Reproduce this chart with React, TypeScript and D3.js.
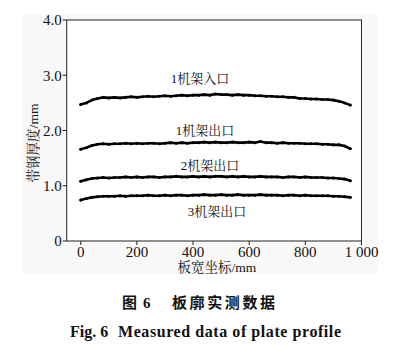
import React from "react";
import * as d3 from "d3";

const xs = [0,20,40,60,80,100,120,140,160,180,200,220,240,260,280,300,320,340,360,380,400,420,440,460,480,500,520,540,560,580,600,620,640,660,680,700,720,740,760,780,800,820,840,860,880,900,920,940,960];

const s1In = [2.47,2.50,2.55,2.58,2.60,2.59,2.60,2.59,2.60,2.61,2.60,2.61,2.62,2.61,2.62,2.63,2.62,2.63,2.64,2.63,2.64,2.64,2.65,2.64,2.66,2.65,2.65,2.64,2.65,2.64,2.64,2.63,2.63,2.62,2.62,2.61,2.61,2.60,2.60,2.58,2.58,2.57,2.57,2.56,2.56,2.55,2.53,2.50,2.46];
const s1Out = [1.66,1.69,1.73,1.75,1.76,1.75,1.76,1.76,1.77,1.76,1.77,1.76,1.77,1.77,1.76,1.77,1.78,1.77,1.78,1.77,1.78,1.78,1.79,1.78,1.79,1.78,1.78,1.79,1.78,1.78,1.79,1.78,1.80,1.78,1.78,1.77,1.78,1.77,1.77,1.77,1.76,1.76,1.76,1.75,1.75,1.74,1.74,1.72,1.67];
const s2Out = [1.08,1.11,1.13,1.14,1.15,1.14,1.15,1.15,1.16,1.15,1.16,1.15,1.16,1.16,1.15,1.16,1.16,1.17,1.16,1.16,1.17,1.16,1.17,1.16,1.17,1.17,1.16,1.17,1.16,1.17,1.16,1.16,1.17,1.16,1.16,1.16,1.15,1.16,1.16,1.15,1.16,1.15,1.15,1.15,1.14,1.14,1.13,1.12,1.09];
const s3Out = [0.74,0.77,0.79,0.80,0.81,0.81,0.81,0.82,0.81,0.82,0.82,0.82,0.83,0.82,0.82,0.83,0.82,0.83,0.83,0.82,0.83,0.83,0.84,0.83,0.83,0.84,0.83,0.83,0.84,0.83,0.83,0.83,0.84,0.83,0.83,0.83,0.82,0.83,0.83,0.82,0.83,0.82,0.82,0.82,0.82,0.81,0.81,0.80,0.79];

const seriesList = [s1In, s1Out, s2Out, s3Out];
const seriesLabels = ["1机架入口", "1机架出口", "2机架出口", "3机架出口"];
const labelPos = [[200, 78], [205, 130], [210, 165], [217, 211]];

const xTicks = [0, 200, 400, 600, 800, 1000];
const xTickLabels = ["0", "200", "400", "600", "800", "1 000"];
const yTicks = [0, 1, 2, 3, 4];
const yTickLabels = ["0", "1.0", "2.0", "3.0", "4.0"];

const serif = "'Liberation Serif','Times New Roman','Noto Serif CJK SC','Noto Sans CJK SC',serif";

export default function App() {
  const x = d3.scaleLinear().domain([-50, 1000]).range([66.7, 361.5]);
  const y = d3.scaleLinear().domain([0, 4]).range([241, 20]);
  const line = d3.line<number>().x((_, i) => x(xs[i])).y((d) => y(d)).curve(d3.curveLinear);

  return (
    <svg width={412} height={356} style={{ position: "absolute", left: 0, top: 0 }} fontFamily={serif}>
      <rect x={0} y={0} width={412} height={356} fill="#fff" />
      <rect x={22} y={14} width={356} height={260} fill="#f8f8f8" />
      {/* frame */}
      <rect x={x(-50)} y={y(4)} width={x(1000) - x(-50)} height={y(0) - y(4)} fill="#fff" stroke="#222" strokeWidth={1} />
      {/* y ticks */}
      {yTicks.map((t, i) => (
        <g key={"y" + t}>
          <line x1={x(-50) - 4} x2={x(-50)} y1={y(t)} y2={y(t)} stroke="#222" />
          <text x={x(-50) - 5} y={y(t)} dy="0.35em" textAnchor="end" fontSize={15} fill="#111">{yTickLabels[i]}</text>
        </g>
      ))}
      {/* x ticks */}
      {xTicks.map((t, i) => (
        <g key={"x" + t}>
          <line x1={x(t)} x2={x(t)} y1={y(0)} y2={y(0) + 4} stroke="#222" />
          <text x={x(t)} y={257} textAnchor="middle" fontSize={15} fill="#111">{xTickLabels[i]}</text>
        </g>
      ))}
      {/* series */}
      {seriesList.map((s, k) => (
        <g key={"s" + k}>
          <path d={line(s) || ""} fill="none" stroke="#000" strokeWidth={2.6} strokeLinejoin="round" strokeLinecap="round" />
          {s.map((v, i) => (
            <circle key={i} cx={x(xs[i])} cy={y(v)} r={1.5} fill="#000" />
          ))}
        </g>
      ))}
      {/* annotations */}
      {seriesLabels.map((l, k) => (
        <text key={"l" + k} x={labelPos[k][0]} y={labelPos[k][1]} dy="0.35em" textAnchor="middle" fontSize={13} fill="#111">{l}</text>
      ))}
      {/* axis titles */}
      <text x={217} y={272} textAnchor="middle" fontSize={13.5} fill="#111">板宽坐标/mm</text>
      <text transform="translate(38,143) rotate(-90)" textAnchor="middle" fontSize={13.5} fill="#111">带钢厚度/mm</text>
      {/* captions */}
      <text y={308} fontSize={15} fontWeight="bold" fill="#111" fontFamily="'Noto Sans CJK SC',sans-serif">
        <tspan x={122}>图</tspan>
        <tspan x={143} fontFamily={serif}>6</tspan>
        <tspan x={172} letterSpacing={2.6}>板廓实测数据</tspan>
      </text>
      <text y={337} fontSize={16} fontWeight="bold" fill="#111">
        <tspan x={70}>Fig. 6</tspan>
      </text>
      <text x={118} y={337} fontSize={16} fontWeight="bold" fill="#111" textLength={223} lengthAdjust="spacing">Measured data of plate profile</text>
    </svg>
  );
}
